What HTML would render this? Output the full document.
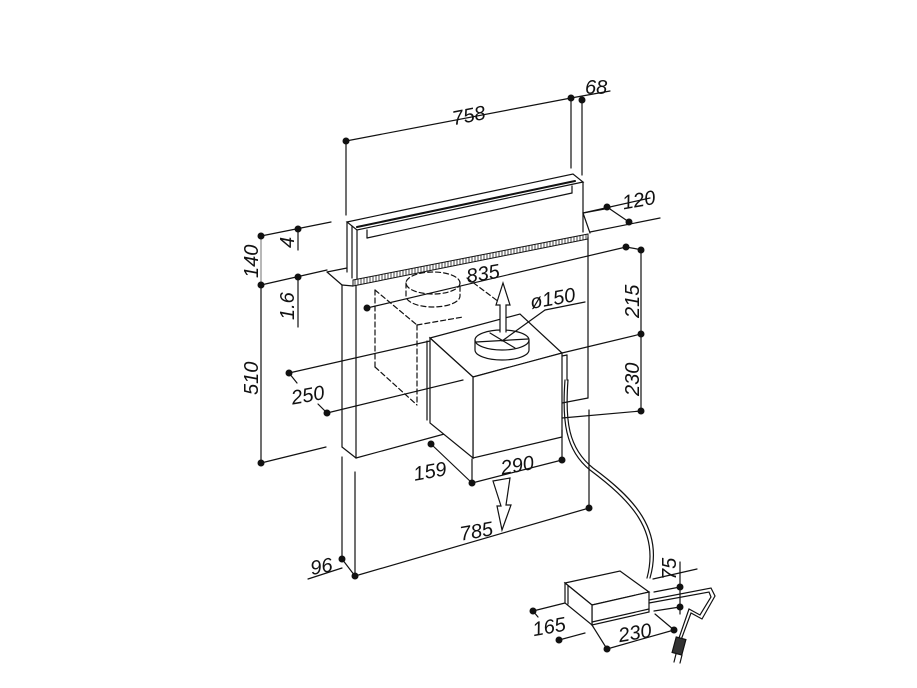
<!DOCTYPE html>
<html><head><meta charset="utf-8"><style>
html,body{margin:0;padding:0;background:#fff;}
svg{display:block}
text{font-family:"Liberation Sans",sans-serif;font-style:italic;font-size:20px;fill:#111}
</style></head><body>
<svg width="917" height="688" viewBox="0 0 917 688" xmlns="http://www.w3.org/2000/svg">
<defs>
<pattern id="h" width="3" height="6" patternUnits="userSpaceOnUse"><rect width="3" height="6" fill="#fff"/><line x1="1" y1="0" x2="1" y2="6" stroke="#444" stroke-width="1"/></pattern>
</defs>
<g stroke="#111" stroke-width="1.2" fill="none" stroke-linecap="round">
<line x1="346" y1="141" x2="571" y2="98"/>
<line x1="346" y1="141" x2="346" y2="215"/>
<line x1="571" y1="98" x2="571" y2="168"/>
<line x1="571" y1="98" x2="610" y2="91"/>
<line x1="582" y1="100" x2="582" y2="175"/>
<polygon points="347,222 573,174 583,182 357,230"/>
<line x1="347" y1="222" x2="347" y2="272"/>
<line x1="352" y1="226" x2="352" y2="278"/>
<line x1="357" y1="230" x2="357" y2="280"/>
<line x1="583" y1="182" x2="583" y2="232"/>
<line x1="367" y1="230" x2="367" y2="238"/>
<line x1="367" y1="238" x2="572" y2="193"/>
<line x1="572" y1="186" x2="572" y2="193"/>
<line x1="357" y1="227" x2="575" y2="181" stroke-width="2"/>
<polygon points="353,280 588,234 588,239 353,286" fill="url(#h)" stroke-width="1"/>
<line x1="327" y1="272" x2="347" y2="268"/>
<line x1="327" y1="272" x2="342" y2="285"/>
<line x1="342" y1="285" x2="353" y2="286"/>
<line x1="583" y1="213" x2="590" y2="233"/>
<line x1="583" y1="213" x2="610" y2="208"/>
<line x1="342" y1="285" x2="342" y2="447"/>
<line x1="356" y1="286" x2="356" y2="458"/>
<line x1="342" y1="447" x2="356" y2="458"/>
<line x1="356" y1="458" x2="448" y2="433"/>
<line x1="588" y1="237" x2="588" y2="398"/>
<line x1="562" y1="403" x2="588" y2="398"/>
<g stroke-dasharray="5,3">
<ellipse cx="433" cy="283" rx="27" ry="11"/>
<path d="M406,283 V296 A27,11 0 0 0 460,296 V283"/>
<line x1="375" y1="290" x2="375" y2="367"/>
<line x1="375" y1="367" x2="417" y2="405"/>
<line x1="417" y1="325" x2="417" y2="405"/>
<line x1="375" y1="290" x2="417" y2="325"/>
<line x1="417" y1="325" x2="463" y2="317"/>
<line x1="467" y1="278" x2="503" y2="305"/>
</g>
<polygon points="430,338 520,314 562,353 473,377" fill="#fff"/>
<polygon points="473,377 562,353 562,437 473,458" fill="#fff"/>
<polygon points="430,338 473,377 473,458 430,423" fill="#fff"/>
<line x1="427" y1="341" x2="427" y2="420"/>
<line x1="562" y1="356" x2="567" y2="355"/>
<line x1="567" y1="355" x2="567" y2="380"/>
<ellipse cx="502" cy="340" rx="27" ry="10" fill="#fff"/>
<path d="M475,340 V350 A27,10 0 0 0 529,350 V340"/>
<line x1="476" y1="342" x2="528" y2="339"/>
<line x1="490" y1="333" x2="515" y2="348"/>
<line x1="502" y1="341" x2="545" y2="310"/>
<line x1="545" y1="310" x2="585" y2="302"/>
<path d="M500,332 V305 H496 L503,283 L510,305 H506 V332" fill="#fff"/>
<path d="M493,481 L510,478 L506,505 L511,505 L502,530 L497,506 L501,506 Z" fill="#fff"/>
<path d="M565,380 C562,420 565,450 590,470 C630,500 660,530 647,578"/>
<path d="M568,380 C565,420 568,448 593,468 C634,498 664,530 650,578"/>
<line x1="590" y1="232" x2="660" y2="218"/>
<line x1="583" y1="213" x2="650" y2="198"/>
<line x1="607" y1="207" x2="629" y2="222"/>
<line x1="367" y1="308" x2="626" y2="247"/>
<line x1="626" y1="247" x2="643" y2="250"/>
<line x1="641" y1="250" x2="641" y2="411"/>
<line x1="562" y1="353" x2="641" y2="334"/>
<line x1="562" y1="418" x2="641" y2="411"/>
<line x1="261" y1="236" x2="331" y2="222"/>
<line x1="261" y1="285" x2="327" y2="270"/>
<line x1="298" y1="229" x2="298" y2="250"/>
<line x1="298" y1="277" x2="298" y2="327"/>
<line x1="261" y1="236" x2="261" y2="285" stroke="#888"/>
<line x1="261" y1="285" x2="261" y2="463"/>
<line x1="261" y1="463" x2="326" y2="447"/>
<line x1="289" y1="373" x2="430" y2="341"/>
<line x1="327" y1="413" x2="463" y2="380"/>
<line x1="289" y1="373" x2="297" y2="383"/>
<line x1="318" y1="404" x2="327" y2="413"/>
<line x1="431" y1="444" x2="472" y2="483"/>
<line x1="472" y1="459" x2="472" y2="483"/>
<line x1="472" y1="483" x2="562" y2="460"/>
<line x1="562" y1="430" x2="562" y2="460"/>
<line x1="342" y1="457" x2="342" y2="559"/>
<line x1="355" y1="472" x2="355" y2="576"/>
<line x1="342" y1="559" x2="355" y2="576"/>
<line x1="308" y1="579" x2="342" y2="568"/>
<line x1="355" y1="576" x2="589" y2="508"/>
<line x1="589" y1="410" x2="589" y2="508"/>
<polygon points="565,583 620,571 649,592 592,605" fill="#fff"/>
<polygon points="592,605 649,592 649,612 592,625" fill="#fff"/>
<polygon points="565,583 592,605 592,625 565,603" fill="#fff"/>
<line x1="568" y1="586" x2="568" y2="604"/>
<line x1="592" y1="622" x2="649" y2="609"/>
<line x1="533" y1="611" x2="565" y2="603"/>
<line x1="559" y1="640" x2="585" y2="633"/>
<line x1="533" y1="611" x2="538" y2="617"/>
<line x1="592" y1="625" x2="607" y2="649"/>
<line x1="607" y1="649" x2="674" y2="630"/>
<line x1="655" y1="614" x2="674" y2="630"/>
<line x1="680" y1="562" x2="680" y2="614"/>
<line x1="653" y1="579" x2="697" y2="569"/>
<line x1="654" y1="592" x2="680" y2="587"/>
<line x1="654" y1="611" x2="680" y2="607"/>
<path d="M649,600 L711,588 L715,596 L702,619 L691,613 L681,640"/>
<path d="M649,603 L709,592 L711,597 L700,615 L689,609 L679,638"/>
<rect x="674" y="638" width="10" height="16" fill="#333" transform="rotate(15 679 646)"/>
<line x1="676" y1="654" x2="674" y2="662"/><line x1="682" y1="655" x2="680" y2="663"/>
</g>
<g fill="#111">
<circle cx="346" cy="141" r="3.5"/><circle cx="571" cy="98" r="3.5"/><circle cx="582" cy="100" r="3.5"/>
<circle cx="607" cy="207" r="3.5"/><circle cx="629" cy="222" r="3.5"/><circle cx="626" cy="247" r="3.5"/>
<circle cx="367" cy="308" r="3.5"/>
<circle cx="641" cy="250" r="3.5"/><circle cx="641" cy="334" r="3.5"/><circle cx="641" cy="411" r="3.5"/>
<circle cx="261" cy="236" r="3.5"/><circle cx="298" cy="229" r="3.5"/><circle cx="261" cy="285" r="3.5"/>
<circle cx="298" cy="277" r="3.5"/><circle cx="261" cy="463" r="3.5"/>
<circle cx="289" cy="373" r="3.5"/><circle cx="327" cy="413" r="3.5"/>
<circle cx="431" cy="444" r="3.5"/><circle cx="472" cy="483" r="3.5"/><circle cx="562" cy="460" r="3.5"/>
<circle cx="342" cy="559" r="3.5"/><circle cx="355" cy="576" r="3.5"/><circle cx="589" cy="508" r="3.5"/>
<circle cx="533" cy="611" r="3.5"/><circle cx="559" cy="640" r="3.5"/><circle cx="607" cy="649" r="3.5"/>
<circle cx="674" cy="630" r="3.5"/><circle cx="680" cy="587" r="3.5"/><circle cx="680" cy="607" r="3.5"/>
</g>
<text x="452" y="122" transform="rotate(-11 470 115)">758</text>
<text x="585" y="94">68</text>
<text x="622" y="207" transform="rotate(-10 637 200)">120</text>
<text x="466" y="280" transform="rotate(-10 485 272)">835</text>
<text x="530" y="306" transform="rotate(-10 548 300)">ø150</text>
<text x="639" y="318" transform="rotate(-90 639 318)">215</text>
<text x="639" y="396" transform="rotate(-90 639 396)">230</text>
<text x="258" y="278" transform="rotate(-90 258 278)">140</text>
<text x="258" y="395" transform="rotate(-90 258 395)">510</text>
<text x="294" y="248" transform="rotate(-90 294 248)">4</text>
<text x="294" y="320" transform="rotate(-90 294 320)">1.6</text>
<text x="291" y="402" transform="rotate(-10 307 395)">250</text>
<text x="413" y="478" transform="rotate(-10 430 470)">159</text>
<text x="500" y="472" transform="rotate(-10 517 462)">290</text>
<text x="459" y="538" transform="rotate(-10 476 528)">785</text>
<text x="310" y="573" transform="rotate(-10 322 565)">96</text>
<text x="532" y="634" transform="rotate(-10 546 625)">165</text>
<text x="618" y="640" transform="rotate(-10 632 632)">230</text>
<text x="676" y="580" transform="rotate(-90 676 580)">75</text>
</svg>
</body></html>
